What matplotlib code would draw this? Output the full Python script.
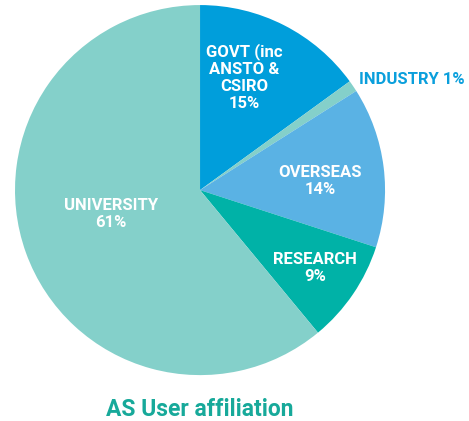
import matplotlib.pyplot as plt

# wedge data, clockwise from 12 o'clock
labels = ['GOVT (inc\nANSTO &\nCSIRO', 'INDUSTRY', 'OVERSEAS', 'RESEARCH', 'UNIVERSITY']
shares = [15, 1, 14, 9, 61]
colors = ['#009edb', '#84d0ca', '#5ab2e4', '#00b2a7', '#84d0ca']

# where each label sits (in pie radius units) and its colour
label_xy = [(0.24, 0.61), (0.86, 0.60), (0.65, 0.05), (0.62, -0.42), (-0.48, -0.13)]
label_color = ['white', '#0a9fdc', 'white', 'white', 'white']
label_ha = ['center', 'left', 'center', 'center', 'center']

plt.rcParams['font.family'] = ['Roboto', 'DejaVu Sans']

fig = plt.figure(figsize=(4.69, 4.21), dpi=100)
ax = fig.add_axes([0.032, 0.109, 0.789, 0.879])
ax.pie(shares, colors=colors, startangle=90, counterclock=False,
       wedgeprops={'linewidth': 0})
ax.set_xlim(-1, 1)
ax.set_ylim(-1, 1)
ax.set_aspect('equal')
ax.axis('off')

for lab, val, (x, y), c, ha in zip(labels, shares, label_xy, label_color, label_ha):
    if lab == 'INDUSTRY':
        txt = '%s %d%%' % (lab, val)
    else:
        txt = '%s\n%d%%' % (lab, val)
    ax.text(x, y, txt, color=c, ha=ha, va='center', fontsize=12,
            fontweight='bold', linespacing=1.15, clip_on=False)

fig.text(200 / 469, 1 - 409 / 421, 'AS User affiliation', color='#17a99a',
         ha='center', va='center', fontsize=16.5, fontweight='bold')

fig.savefig('out.png', dpi=100)
